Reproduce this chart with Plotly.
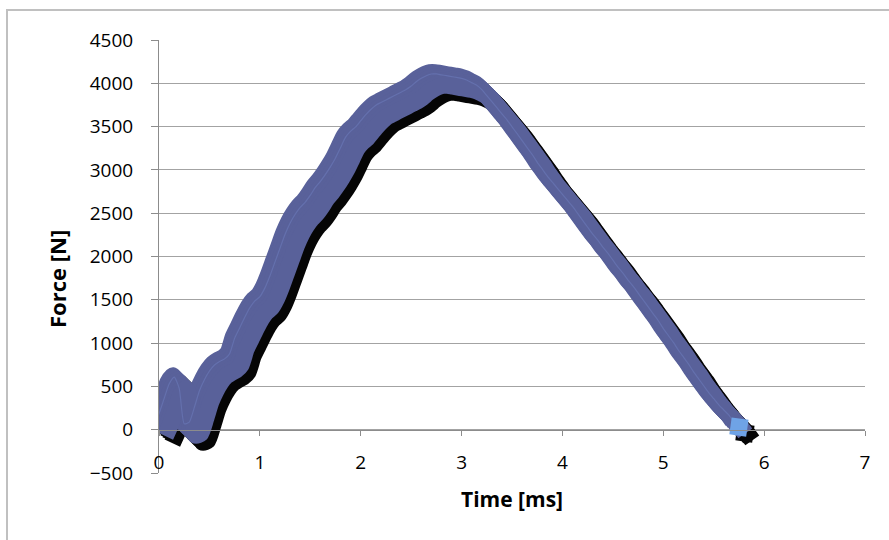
import plotly.graph_objects as go

# Measured force pulse, sampled every 0.05 ms
TIME_MS = [
    0.00, 0.05, 0.10, 0.15, 0.20, 0.25, 0.30, 0.35, 0.40, 0.45,
    0.50, 0.55, 0.60, 0.65, 0.70, 0.75, 0.80, 0.85, 0.90, 0.95,
    1.00, 1.05, 1.10, 1.15, 1.20, 1.25, 1.30, 1.35, 1.40, 1.45,
    1.50, 1.55, 1.60, 1.65, 1.70, 1.75, 1.80, 1.85, 1.90, 1.95,
    2.00, 2.05, 2.10, 2.15, 2.20, 2.25, 2.30, 2.35, 2.40, 2.45,
    2.50, 2.55, 2.60, 2.65, 2.70, 2.75, 2.80, 2.85, 2.90, 2.95,
    3.00, 3.05, 3.10, 3.15, 3.20, 3.25, 3.30, 3.35, 3.40, 3.45,
    3.50, 3.55, 3.60, 3.65, 3.70, 3.75, 3.80, 3.85, 3.90, 3.95,
    4.00, 4.05, 4.10, 4.15, 4.20, 4.25, 4.30, 4.35, 4.40, 4.45,
    4.50, 4.55, 4.60, 4.65, 4.70, 4.75, 4.80, 4.85, 4.90, 4.95,
    5.00, 5.05, 5.10, 5.15, 5.20, 5.25, 5.30, 5.35, 5.40, 5.45,
    5.50, 5.55, 5.60, 5.65, 5.70, 5.75,
]
FORCE_N = [
    0, 130, 300, 470, 550, 420, 10, 30, 200, 390,
    520, 620, 690, 730, 760, 820, 1000, 1120, 1240, 1350,
    1430, 1480, 1580, 1720, 1880, 2040, 2200, 2330, 2430, 2510,
    2570, 2650, 2740, 2810, 2890, 2980, 3080, 3200, 3320, 3390,
    3440, 3510, 3580, 3640, 3690, 3720, 3750, 3780, 3810, 3840,
    3870, 3910, 3960, 4000, 4030, 4050, 4050, 4040, 4030, 4020,
    4010, 4000, 3980, 3950, 3920, 3870, 3800, 3730, 3660, 3590,
    3520, 3440, 3360, 3280, 3200, 3120, 3030, 2950, 2870, 2800,
    2730, 2660, 2590, 2520, 2440, 2360, 2280, 2200, 2130, 2050,
    1980, 1900, 1820, 1750, 1670, 1600, 1520, 1440, 1360, 1280,
    1200, 1110, 1030, 950, 860, 780, 700, 610, 530, 450,
    370, 300, 230, 170, 110, 30,
]

X_RANGE = [0, 7]
Y_RANGE = [-500, 4500]
X_TICKS = [0, 1, 2, 3, 4, 5, 6, 7]
Y_TICKS = [-500, 0, 500, 1000, 1500, 2000, 2500, 3000, 3500, 4000, 4500]

W, H = 889, 540
M_L, M_R, M_T, M_B = 159, 24, 40, 67
plot_w = W - M_L - M_R
plot_h = H - M_T - M_B
PX_X = (X_RANGE[1] - X_RANGE[0]) / plot_w   # data units per pixel
PX_Y = (Y_RANGE[1] - Y_RANGE[0]) / plot_h


def shifted(px, py):
    """Series moved by (px, py) screen pixels (py positive = downwards)."""
    return ([t + px * PX_X for t in TIME_MS], [f - py * PX_Y for f in FORCE_N])


BODY = "#59619a"
RIDGE = "#6470ad"
LAST = "#6fa3e6"
SHADOW = "#050505"

# The thick marker ribbon is built as a swept stroke: one wide line swept
# along a short segment pointing down-right, which gives the slanted look.
STROKE_W = 17
SWEEP = [-9, -6, -3, 0, 3, 6, 9]
SHADOW_OFF = (7, 7)
LINE = dict(width=STROKE_W, shape="spline", smoothing=0.6)

fig = go.Figure()

for s in SWEEP:
    xs, ys = shifted(s * 0.7071 + SHADOW_OFF[0], s * 0.7071 + SHADOW_OFF[1])
    fig.add_trace(go.Scatter(
        x=xs, y=ys, mode="lines", hoverinfo="skip", showlegend=False,
        line=dict(color=SHADOW, **LINE),
    ))
# shadow of the end marker
xs, ys = shifted(SHADOW_OFF[0] - 1, SHADOW_OFF[1] - 1)
fig.add_trace(go.Scatter(
    x=xs[-1:], y=ys[-1:], mode="markers", hoverinfo="skip", showlegend=False,
    marker=dict(symbol="square", size=17, angle=8, color=SHADOW, line=dict(width=0)),
))

for s in SWEEP:
    xs, ys = shifted(s * 0.7071, s * 0.7071)
    fig.add_trace(go.Scatter(
        x=xs, y=ys, mode="lines", hoverinfo="skip", showlegend=False,
        line=dict(color=BODY, **LINE),
    ))

# faint inner ridge of the ribbon
xs, ys = shifted(-5, -5)
fig.add_trace(go.Scatter(
    x=xs, y=ys, mode="lines", hoverinfo="skip", showlegend=False,
    line=dict(color=RIDGE, width=1.2, shape="spline", smoothing=0.6),
))

# the data points themselves, last one highlighted
fig.add_trace(go.Scatter(
    x=TIME_MS, y=FORCE_N, mode="markers", showlegend=False,
    marker=dict(
        symbol="square", size=17, angle=8,
        color=["rgba(0,0,0,0)"] * (len(TIME_MS) - 1) + [LAST],
        line=dict(width=0),
    ),
))

tick_font = dict(family="Open Sans", size=19, color="#000000")
axis_gray = "#8c8c8c"
zero_pos = (0 - Y_RANGE[0]) / (Y_RANGE[1] - Y_RANGE[0])

fig.update_layout(
    width=W, height=H,
    margin=dict(l=M_L, r=M_R, t=M_T, b=M_B),
    paper_bgcolor="white", plot_bgcolor="white",
    xaxis=dict(
        range=X_RANGE, tickvals=X_TICKS, showgrid=False, zeroline=False,
        anchor="free", position=zero_pos,
        showline=True, linecolor=axis_gray, linewidth=1,
        ticks="outside", ticklen=5, tickcolor=axis_gray,
        tickfont=tick_font, ticklabelstandoff=10,
    ),
    yaxis=dict(
        range=Y_RANGE, tickvals=Y_TICKS, showgrid=True, gridcolor="#a3a3a3",
        gridwidth=1, zeroline=False,
        showline=True, linecolor=axis_gray, linewidth=1,
        ticks="outside", ticklen=7, tickcolor=axis_gray,
        tickfont=tick_font, ticklabelstandoff=14,
    ),
    shapes=[dict(
        type="rect", xref="paper", yref="paper",
        x0=(7 - M_L) / plot_w, x1=(W + 10 - M_L) / plot_w,
        y0=(H - M_B - (H + 10)) / plot_h, y1=(H - M_B - 10) / plot_h,
        line=dict(color="#c0c0c0", width=2), fillcolor="rgba(0,0,0,0)",
        layer="below",
    )],
    annotations=[
        dict(text="<b>Force [N]</b>", textangle=-90, xref="paper", yref="paper",
             x=(57 - M_L) / plot_w, y=(H - M_B - 279) / plot_h,
             xanchor="center", yanchor="middle", showarrow=False,
             font=dict(family="Open Sans", size=22, color="#000000")),
        dict(text="<b>Time [ms]</b>", xref="paper", yref="paper",
             x=0.5, y=(H - M_B - 499) / plot_h,
             xanchor="center", yanchor="middle", showarrow=False,
             font=dict(family="Open Sans", size=21, color="#000000")),
    ],
)

fig.write_html("out.html")
